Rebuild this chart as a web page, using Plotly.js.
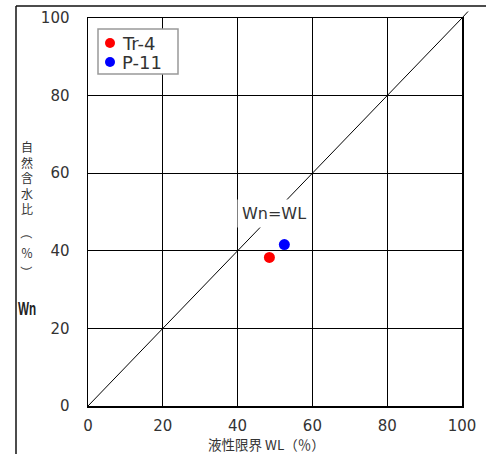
<!DOCTYPE html>
<html>
<head>
<meta charset="utf-8">
<script src="https://cdn.plot.ly/plotly-3.0.1.min.js"></script>
<style>
  html, body { margin: 0; padding: 0; background: #fff; }
  #chart { width: 486px; height: 454px; }
</style>
</head>
<body>
<div id="chart"></div>
<script>
// Sample names and their measured values
const sampleNames = ['Tr-4', 'P-11'];
const liquidLimit = [48.5, 52.5];   // WL (%)
const waterContent = [38.3, 41.6];  // Wn (%)

// Reference line Wn = WL
const refLineX = [0, 100];
const refLineY = [0, 100];

// Axis ticks
const tickValues = [0, 20, 40, 60, 80, 100];
const tickLabels = ['0', '20', '40', '60', '80', '100'];

// Axis titles
const xTitle = '液性限界 WL（％）';
const yTitleMain = ['自', '然', '含', '水', '比'];
const yTitleUnit = ['（', '％', '）'];
const yTitleSymbol = 'Wn';

const W = 486, H = 454;
const M = { l: 88, r: 24, t: 18, b: 48 };
const plotW = W - M.l - M.r, plotH = H - M.t - M.b;
const px2x = p => (p - M.l) / plotW;
const py2y = p => (H - M.b - p) / plotH;

const markerColors = ['#ff0000', '#0000ff'];
const textColor = '#333333';
const jpFont = 'Noto Sans CJK JP';

const traces = [{
  x: refLineX, y: refLineY,
  mode: 'lines', type: 'scatter',
  line: { color: '#000', width: 1 },
  showlegend: false, hoverinfo: 'skip'
}];
sampleNames.forEach((name, i) => {
  traces.push({
    x: [liquidLimit[i]], y: [waterContent[i]],
    name: name, mode: 'markers', type: 'scatter',
    marker: { color: markerColors[i], size: 11 },
    showlegend: false
  });
});

const annotations = [];
const shapes = [];

// x-axis title below the tick labels
annotations.push({
  xref: 'paper', yref: 'paper', x: px2x(266), y: py2y(444),
  text: xTitle, showarrow: false, borderpad: 0,
  font: { family: jpFont, size: 13.5, color: textColor },
  xanchor: 'center', yanchor: 'middle'
});

// stacked vertical y-axis title
annotations.push({
  xref: 'paper', yref: 'paper', x: px2x(27), y: py2y(177),
  text: yTitleMain.join('<br>'), showarrow: false,
  font: { family: jpFont, size: 12, color: textColor },
  xanchor: 'center', yanchor: 'middle'
});
const unitY = [233, 252, 272];
yTitleUnit.forEach((ch, i) => {
  annotations.push({
    xref: 'paper', yref: 'paper', x: px2x(27), y: py2y(unitY[i]),
    text: ch, showarrow: false,
    textangle: i === 1 ? 0 : 90,
    font: { family: jpFont, size: 12, color: textColor },
    xanchor: 'center', yanchor: 'middle'
  });
});
annotations.push({
  xref: 'paper', yref: 'paper', x: px2x(27), y: py2y(309),
  text: '<b>' + yTitleSymbol + '</b>', showarrow: false,
  font: { family: 'Liberation Sans', size: 18, color: '#222' },
  xanchor: 'center', yanchor: 'middle'
});

// label on the equality line
annotations.push({
  xref: 'x', yref: 'y', x: 49.7, y: 49.5,
  text: 'Wn=WL', showarrow: false,
  bgcolor: '#fff', borderpad: 4,
  font: { family: 'DejaVu Sans', size: 16, color: textColor },
  xanchor: 'center', yanchor: 'middle'
});

// legend box
const legendBox = { left: 98, top: 29, right: 178, bottom: 74 };
const legendRowY = [43, 62];
shapes.push({
  type: 'rect', xref: 'paper', yref: 'paper', layer: 'above',
  x0: px2x(legendBox.left), x1: px2x(legendBox.right),
  y0: py2y(legendBox.bottom), y1: py2y(legendBox.top),
  fillcolor: '#fff', line: { color: '#999', width: 1.5 }
});
sampleNames.forEach((name, i) => {
  const cy = legendRowY[i], r = 5;
  shapes.push({
    type: 'circle', xref: 'paper', yref: 'paper', layer: 'above',
    x0: px2x(110 - r), x1: px2x(110 + r), y0: py2y(cy + r), y1: py2y(cy - r),
    fillcolor: markerColors[i], line: { width: 0 }
  });
  annotations.push({
    xref: 'paper', yref: 'paper', x: px2x(120), y: py2y(cy),
    text: name, showarrow: false,
    font: { family: 'DejaVu Sans', size: 18, color: textColor },
    xanchor: 'left', yanchor: 'middle'
  });
});

// short overshoot of the Wn=WL line past the top-right corner
shapes.push({ type: 'line', xref: 'paper', yref: 'paper',
  x0: 1, y0: 1, x1: 1 + 6 / plotW, y1: 1 + 6.5 / plotH,
  line: { color: '#000', width: 1 } });
// outer frame (top and left edges)
shapes.push({ type: 'line', xref: 'paper', yref: 'paper',
  x0: px2x(16), y0: py2y(6), x1: px2x(486), y1: py2y(6),
  line: { color: '#111', width: 1.5 } });
shapes.push({ type: 'line', xref: 'paper', yref: 'paper',
  x0: px2x(16), y0: py2y(6), x1: px2x(16), y1: py2y(454),
  line: { color: '#111', width: 1.5 } });

const axisCommon = {
  range: [0, 100], tickmode: 'array',
  tickvals: tickValues, ticktext: tickLabels,
  showgrid: true, gridcolor: '#000', gridwidth: 1,
  showline: true, linecolor: '#000', linewidth: 1.5, mirror: true,
  zeroline: false, ticks: '',
  tickfont: { family: 'DejaVu Sans', size: 15, color: textColor },
  fixedrange: true
};

const layout = {
  width: W, height: H, margin: M,
  paper_bgcolor: '#fff', plot_bgcolor: '#fff',
  xaxis: Object.assign({}, axisCommon, { ticklabelstandoff: 5 }),
  yaxis: Object.assign({}, axisCommon, { ticklabelstandoff: 14 }),
  showlegend: false,
  annotations: annotations,
  shapes: shapes
};

Plotly.newPlot('chart', traces, layout, { staticPlot: true, displayModeBar: false })
  .then(() => {
    // narrow the bold "Wn" symbol to a condensed look
    document.querySelectorAll('.annotation-text').forEach(t => {
      if (t.textContent === yTitleSymbol) {
        t.style.transformBox = 'fill-box';
        t.style.transformOrigin = 'center';
        t.style.transform = 'scaleX(0.65)';
      }
    });
  });
</script>
</body>
</html>
